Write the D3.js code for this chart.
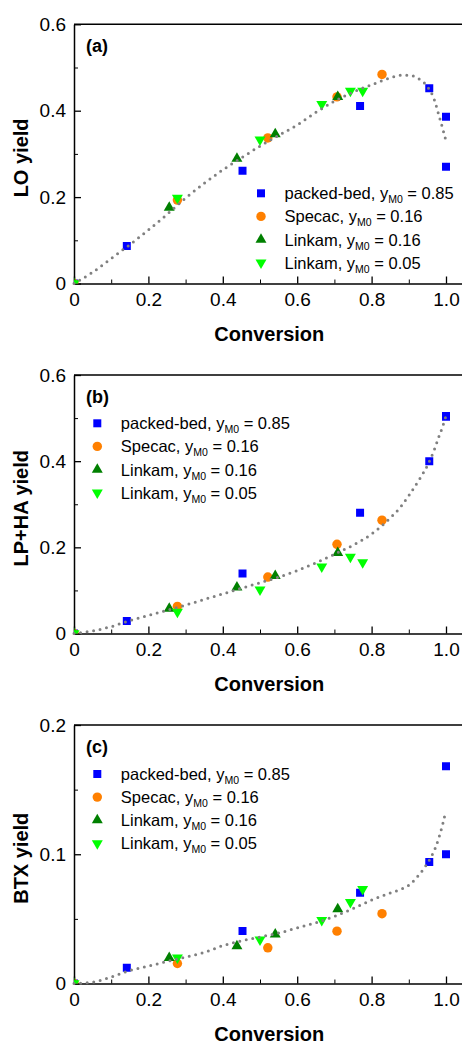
<!DOCTYPE html>
<html>
<head>
<meta charset="utf-8">
<script src="https://cdn.jsdelivr.net/npm/d3@7"></script>
<style>
  body { margin: 0; background: #fff; }
  svg { display: block; font-family: "Liberation Sans", Arial, sans-serif; }
</style>
</head>
<body>
<div id="art"></div>
<script type="text/javascript">
// conversion values for each series (shared by the three panels)
var xPacked = [0, 0.142, 0.453, 0.769, 0.955, 1.0, 1.0],
    xSpecac = [0, 0.278, 0.521, 0.707, 0.828],
    xLink16 = [0, 0.256, 0.438, 0.541, 0.709],
    xLink05 = [0, 0.278, 0.500, 0.666, 0.743, 0.776];

// (a) LO yield
var loPacked = [0, 0.087, 0.261, 0.411, 0.452, 0.386, 0.270],
    loSpecac = [0, 0.193, 0.337, 0.432, 0.484],
    loLink16 = [0, 0.176, 0.289, 0.346, 0.432],
    loLink05 = [0, 0.198, 0.333, 0.415, 0.446, 0.446];

// (b) LP+HA yield
var lpPacked = [0, 0.029, 0.139, 0.280, 0.400, 0.505, 0.503],
    lpSpecac = [0, 0.063, 0.131, 0.207, 0.263],
    lpLink16 = [0, 0.058, 0.107, 0.134, 0.187],
    lpLink05 = [0, 0.050, 0.102, 0.155, 0.178, 0.165];

// (c) BTX yield
var btPacked = [0, 0.0121, 0.0407, 0.0702, 0.094, 0.100, 0.168],
    btSpecac = [0, 0.0155, 0.0276, 0.0405, 0.054],
    btLink16 = [0, 0.0198, 0.0289, 0.038, 0.0575],
    btLink05 = [0, 0.020, 0.034, 0.049, 0.063, 0.073];

// model curves (dotted)
var xCurve  = [0, 0.05, 0.1, 0.15, 0.2, 0.25, 0.3, 0.35, 0.4, 0.45, 0.5, 0.55, 0.6, 0.65, 0.7, 0.75, 0.8, 0.85, 0.88, 0.9, 0.93, 0.95, 0.97, 0.98, 0.99, 1.0],
    loCurve = [0, 0.026, 0.058, 0.09, 0.124, 0.16, 0.198, 0.232, 0.263, 0.291, 0.318, 0.343, 0.367, 0.396, 0.422, 0.443, 0.46, 0.476, 0.482, 0.482, 0.472, 0.456, 0.422, 0.392, 0.362, 0.33],
    lpCurve = [0, 0.006, 0.016, 0.03, 0.042, 0.054, 0.066, 0.079, 0.092, 0.105, 0.118, 0.131, 0.146, 0.164, 0.184, 0.205, 0.231, 0.268, 0.296, 0.32, 0.36, 0.39, 0.43, 0.455, 0.478, 0.505],
    btCurve = [0, 0.001, 0.005, 0.01, 0.0135, 0.017, 0.0205, 0.024, 0.0293, 0.033, 0.036, 0.039, 0.043, 0.047, 0.052, 0.058, 0.0645, 0.07, 0.073, 0.076, 0.085, 0.093, 0.104, 0.112, 0.122, 0.134];

var seriesNames = ["packed-bed", "Specac", "Linkam", "Linkam"],
    seriesY0 = ["0.85", "0.16", "0.16", "0.05"],
    seriesColor = ["#0000ff", "#ff8000", "#008000", "#00ff00"],
    seriesShape = ["square", "circle", "up", "down"],
    seriesX = [xPacked, xSpecac, xLink16, xLink05];

var panels = [
  { tag: "(a)", title: "LO yield", ys: [loPacked, loSpecac, loLink16, loLink05], curve: loCurve,
    top: 24.3, bottom: 283.5, ymax: 0.6, major: 0.2, legX: 261, legY: 193.3 },
  { tag: "(b)", title: "LP+HA yield", ys: [lpPacked, lpSpecac, lpLink16, lpLink05], curve: lpCurve,
    top: 375, bottom: 633.5, ymax: 0.6, major: 0.2, legX: 97.3, legY: 423.3 },
  { tag: "(c)", title: "BTX yield", ys: [btPacked, btSpecac, btLink16, btLink05], curve: btCurve,
    top: 725, bottom: 983.5, ymax: 0.2, major: 0.1, legX: 97.3, legY: 774 }
];

var W = 462, H = 1045, left = 74, right = 74 + 372 * 1.05;

var svg = d3.select("#art").append("svg")
    .attr("width", W)
    .attr("height", H);

var fmt = function(d) { return d === 0 ? "0" : d3.format(".1f")(d); };

function symbolPath(shape) {
  if (shape === "square") return d3.symbol().type(d3.symbolSquare).size(64)();
  if (shape === "circle") return d3.symbol().type(d3.symbolCircle).size(70)();
  return d3.symbol().type(d3.symbolTriangle).size(52)();
}

function placeMark(sel, shape) {
  sel.attr("d", symbolPath(shape))
     .attr("transform", function(d) {
        return "translate(" + d[0] + "," + d[1] + ")" + (shape === "down" ? " rotate(180)" : "");
     });
}

panels.forEach(function(p, pi) {
  var x = d3.scaleLinear().domain([0, 1.05]).range([left, right]),
      y = d3.scaleLinear().domain([0, p.ymax]).range([p.bottom, p.top]);

  var g = svg.append("g");

  g.append("clipPath").attr("id", "clip" + pi)
    .append("rect")
    .attr("x", left).attr("y", p.top)
    .attr("width", right - left).attr("height", p.bottom - p.top);

  // minor ticks
  var xMinor = d3.range(0.1, 1.05, 0.2),
      yMinor = d3.range(p.major / 2, p.ymax, p.major);

  g.append("g")
    .attr("transform", "translate(0," + p.bottom + ")")
    .call(d3.axisBottom(x).tickValues(xMinor).tickSize(-4).tickFormat(""))
    .call(function(a) { a.select(".domain").remove(); });

  g.append("g")
    .attr("transform", "translate(" + left + ",0)")
    .call(d3.axisLeft(y).tickValues(yMinor).tickSize(-4).tickFormat(""))
    .call(function(a) { a.select(".domain").remove(); });

  // major axes
  var xa = g.append("g")
    .attr("transform", "translate(0," + p.bottom + ")")
    .call(d3.axisBottom(x).tickValues(d3.range(0, 1.01, 0.2)).tickSize(-7).tickSizeOuter(0).tickPadding(9).tickFormat(fmt));

  var ya = g.append("g")
    .attr("transform", "translate(" + left + ",0)")
    .call(d3.axisLeft(y).tickValues(d3.range(0, p.ymax + 1e-9, p.major)).tickSize(-7).tickSizeOuter(0).tickPadding(8).tickFormat(fmt));

  [xa, ya].forEach(function(a) {
    a.selectAll("text").attr("font-size", 19).attr("fill", "#000").attr("font-family", "Liberation Sans, Arial, sans-serif");
    a.selectAll("line").attr("stroke", "#000").attr("stroke-width", 1.3);
    a.select(".domain").attr("stroke", "#000").attr("stroke-width", 1.5);
  });

  // top and right frame
  g.append("path")
    .attr("d", "M" + left + "," + p.top + "H" + right + "V" + p.bottom)
    .attr("fill", "none")
    .attr("stroke", "#000")
    .attr("stroke-width", 1.5);

  // markers
  var marks = g.append("g").attr("clip-path", "url(#clip" + pi + ")");
  seriesX.forEach(function(xs, si) {
    var pts = xs.map(function(v, i) { return [x(v), y(p.ys[si][i])]; });
    marks.selectAll(".s" + si)
        .data(pts)
      .enter().append("path")
        .attr("class", "s" + si)
        .attr("fill", seriesColor[si])
        .call(placeMark, seriesShape[si]);
  });

  // dotted model curve on top
  var line = d3.line()
    .x(function(d, i) { return x(xCurve[i]); })
    .y(function(d) { return y(d); })
    .curve(d3.curveMonotoneX);

  g.append("path")
    .datum(p.curve)
    .attr("d", line)
    .attr("fill", "none")
    .attr("stroke", "#808080")
    .attr("stroke-width", 3)
    .attr("stroke-linecap", "round")
    .attr("stroke-dasharray", "0,6.6");

  // panel tag
  g.append("text")
    .attr("x", 86)
    .attr("y", p.top + 28)
    .attr("font-size", 18)
    .attr("font-weight", "bold")
    .text(p.tag);

  // axis titles
  g.append("text")
    .attr("x", (left + right) / 2)
    .attr("y", p.bottom + 57)
    .attr("text-anchor", "middle")
    .attr("font-size", 20)
    .attr("font-weight", "bold")
    .text("Conversion");

  g.append("text")
    .attr("transform", "translate(28," + ((p.top + p.bottom) / 2 + 4) + ") rotate(-90)")
    .attr("text-anchor", "middle")
    .attr("font-size", 20)
    .attr("font-weight", "bold")
    .text(p.title);

  // legend
  var leg = g.append("g");
  seriesNames.forEach(function(name, si) {
    var ly = p.legY + si * 23.1;
    leg.append("path")
      .datum([p.legX, ly])
      .attr("fill", seriesColor[si])
      .call(placeMark, seriesShape[si]);

    var t = leg.append("text")
      .attr("x", p.legX + 23.5)
      .attr("y", ly + 6)
      .attr("font-size", 16.5);
    t.append("tspan").text(name + ", y");
    t.append("tspan").attr("font-size", 10.5).attr("dy", 4).text("M0");
    t.append("tspan").attr("dy", -4).text(" = " + seriesY0[si]);
  });
});
</script>
</body>
</html>
